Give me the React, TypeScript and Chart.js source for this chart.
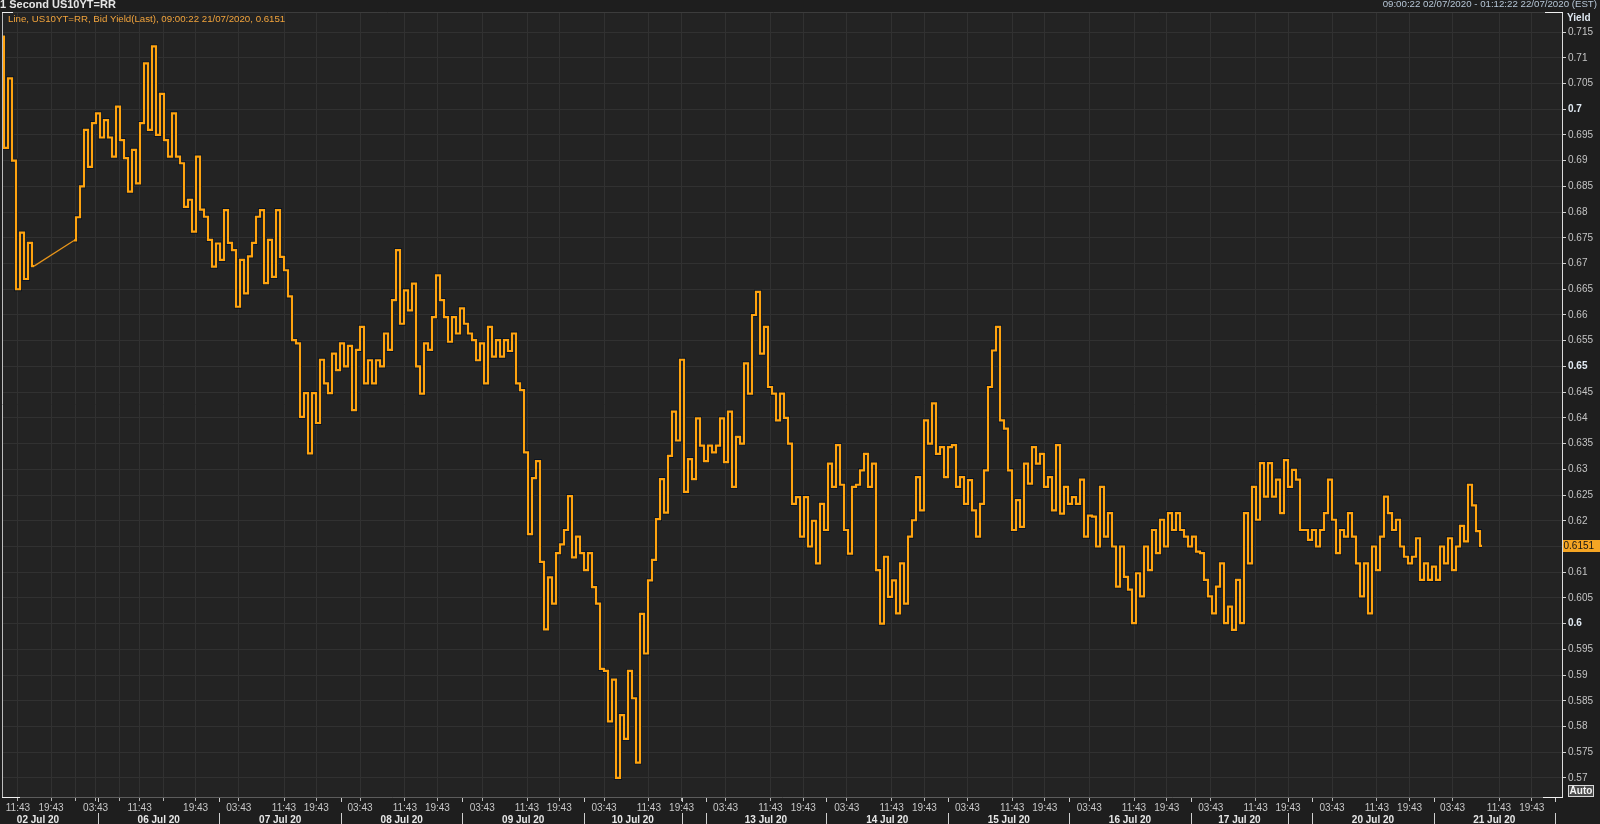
import React, { useEffect, useRef } from "react";
import { Chart, registerables } from "chart.js";

Chart.register(...registerables);

// ---------- texts ----------
const TITLE = "1 Second US10YT=RR";
const RANGE_TEXT = "09:00:22 02/07/2020 - 01:12:22 22/07/2020 (EST)";
const LEGEND_TEXT = "Line, US10YT=RR, Bid Yield(Last), 09:00:22 21/07/2020, 0.6151";
const AXIS_TITLE = "Yield";
const AUTO_TEXT = "Auto";
const LAST_VALUE = 0.6151;

// ---------- data (x = sample/bar index on the compressed session axis) ----------
const START_02JUL = 0;
const START_06JUL = 18;

const yields02Jul = [0.7141, 0.6925, 0.706, 0.69, 0.665, 0.676, 0.667, 0.674, 0.6695];

const yieldsFrom06Jul = [
  // 06 Jul
  0.6745, 0.679, 0.685, 0.696, 0.6888, 0.6973, 0.6992, 0.6945, 0.6979, 0.6945, 0.6908, 0.7005, 0.694, 0.6905, 0.684, 0.6921, 0.6856, 0.6973, 0.7089,
  0.696, 0.7122, 0.695, 0.703, 0.694, 0.6908, 0.6992, 0.6908, 0.6895, 0.681, 0.6824, 0.6762, 0.6908, 0.6805, 0.6791, 0.6746, 0.6694, 0.6739, 0.6707,
  // 07 Jul
  0.6804, 0.674, 0.6726, 0.6616, 0.6707, 0.6642, 0.6714, 0.674, 0.6791, 0.6804, 0.6662, 0.6746, 0.6674, 0.6804, 0.6713, 0.6687, 0.6636, 0.6551, 0.6545,
  0.6402, 0.6448, 0.6331, 0.6448, 0.639, 0.6513, 0.6467, 0.6448, 0.6525, 0.6493, 0.6545, 0.65, 0.654, 0.6415, 0.6532, 0.6577, 0.6467, 0.6512, 0.6467,
  // 08 Jul
  0.6512, 0.65, 0.6564, 0.6532, 0.6629, 0.6726, 0.6583, 0.6648, 0.6609, 0.6661, 0.65, 0.6447, 0.6545, 0.6532, 0.6596, 0.6677, 0.6629, 0.6596, 0.6548,
  0.6596, 0.6564, 0.6613, 0.6583, 0.6564, 0.6551, 0.6512, 0.6545, 0.6467, 0.6577, 0.6519, 0.6551, 0.6519, 0.6551, 0.653, 0.6564, 0.6467, 0.6454, 0.6333, 0.6174,
  // 09 Jul
  0.6283, 0.6316, 0.612, 0.5989, 0.609, 0.6039, 0.6137, 0.6154, 0.6182, 0.6248, 0.6129, 0.6169, 0.6137, 0.6104, 0.6137, 0.6071, 0.6039, 0.5912, 0.5908,
  // 10 Jul
  0.581, 0.5891, 0.57, 0.5822, 0.5776, 0.5908, 0.5855, 0.573, 0.6019, 0.5942, 0.6084, 0.6124, 0.6203, 0.6281, 0.6216, 0.6326, 0.6412, 0.6356, 0.6513,
  0.6256, 0.632, 0.6281, 0.6399, 0.6346, 0.6316, 0.6346, 0.6333, 0.6346, 0.6399, 0.6314, 0.6412, 0.6266, 0.6363, 0.635, 0.6506, 0.6447, 0.66,
  // 13 Jul
  0.6645, 0.6525, 0.6577, 0.646, 0.6447, 0.6395, 0.6447, 0.64, 0.635, 0.6233, 0.6246, 0.6169, 0.6246, 0.615, 0.62, 0.6117, 0.6233, 0.6182, 0.6311,
  // 14 Jul
  0.6266, 0.6347, 0.627, 0.6182, 0.6136, 0.6266, 0.627, 0.6298, 0.633, 0.6266, 0.6311, 0.6104, 0.6, 0.613, 0.6052, 0.6084, 0.602, 0.6117, 0.6039,
  0.6169, 0.6201, 0.6285, 0.622, 0.6395, 0.635, 0.6428, 0.633, 0.6343, 0.6285, 0.6343, 0.6347, 0.6266, 0.6285, 0.6233, 0.6279, 0.622, 0.6169, 0.6233,
  // 15 Jul
  0.6298, 0.646, 0.6531, 0.6577, 0.6395, 0.6379, 0.6298, 0.6182, 0.624, 0.6188, 0.6311, 0.6272, 0.6343, 0.6311, 0.633, 0.6266, 0.6285, 0.622, 0.6347,
  // 16 Jul
  0.6214, 0.6266, 0.6233, 0.6246, 0.6233, 0.628, 0.6169, 0.621, 0.6208, 0.615, 0.6266, 0.6169, 0.6215, 0.615, 0.6072, 0.615, 0.6091, 0.6066, 0.6001,
  0.6098, 0.6053, 0.615, 0.6104, 0.6182, 0.6137, 0.6202, 0.615, 0.6215, 0.6182, 0.6215, 0.6182, 0.6169, 0.615, 0.6169, 0.614, 0.6137, 0.6085, 0.6053,
  // 17 Jul
  0.602, 0.6072, 0.6117, 0.6001, 0.6033, 0.5988, 0.6085, 0.6001, 0.6215, 0.6117, 0.6266, 0.6202, 0.6312, 0.6247, 0.6312, 0.6247, 0.628, 0.6215, 0.6318,
  // 20 Jul
  0.6266, 0.6299, 0.628, 0.6182, 0.6182, 0.6163, 0.6182, 0.615, 0.6182, 0.6215, 0.628, 0.6202, 0.6137, 0.6182, 0.6169, 0.6215, 0.6169, 0.6117, 0.6053,
  0.6117, 0.602, 0.615, 0.6104, 0.6169, 0.6247, 0.6215, 0.6182, 0.6202, 0.615, 0.613, 0.6117, 0.613, 0.6166, 0.6085, 0.6117, 0.6085, 0.6111, 0.6085,
  // 21 Jul
  0.615, 0.6117, 0.6166, 0.6104, 0.615, 0.619, 0.616, 0.627, 0.623, 0.618, 0.6151,
];

// ---------- axis ticks ----------
const X_MIN = 0;
const X_MAX = 390;
const Y_MIN = 0.5663;
const Y_MAX = 0.7189;

const timeTickBars = [
  3.98, 12.25, 18.25, 23.4, 29.45, 34.4, 40.4, 48.4,
  59.2, 70.5, 78.55, 89.5, 100.7, 108.85, 120.05, 131.25, 139.3,
  150.5, 161.7, 169.9, 180.9, 192.1, 200.3, 211.2, 222.4, 230.6,
  241.35, 252.55, 260.7, 271.8, 283, 291.2, 302.2, 313.4, 321.5,
  332.5, 343.7, 351.9, 362.65, 374.25, 382.45,
];
const timeTickLabels = [
  "11:43", "19:43", "", "03:43", "", "11:43", "", "19:43",
  "03:43", "11:43", "19:43", "03:43", "11:43", "19:43", "03:43", "11:43", "19:43",
  "03:43", "11:43", "19:43", "03:43", "11:43", "19:43", "03:43", "11:43", "19:43",
  "03:43", "11:43", "19:43", "03:43", "11:43", "19:43", "03:43", "11:43", "19:43",
  "03:43", "11:43", "19:43", "03:43", "11:43", "19:43",
];

const dayNames = ["02 Jul 20", "06 Jul 20", "07 Jul 20", "08 Jul 20", "09 Jul 20", "10 Jul 20", "13 Jul 20", "14 Jul 20", "15 Jul 20", "16 Jul 20", "17 Jul 20", "20 Jul 20", "21 Jul 20"];
const dayStartBars = [-6, 24, 54.35, 84.75, 115.1, 145.5, 175.9, 206.05, 236.6, 266.8, 297.2, 327.6, 357.9];
const dayEndBars = [24, 54.35, 84.75, 115.1, 145.5, 169.9, 206.05, 236.6, 266.8, 297.2, 321.5, 357.9, 388.25];
const sessionBreakBars = [24, 54.35, 84.75, 115.1, 145.5, 169.9, 175.9, 206.05, 236.6, 266.8, 297.2, 321.5, 327.6, 357.9, 388.25];

const yTickValues = [
  0.57, 0.575, 0.58, 0.585, 0.59, 0.595, 0.6, 0.605, 0.61, 0.615,
  0.62, 0.625, 0.63, 0.635, 0.64, 0.645, 0.65, 0.655, 0.66, 0.665,
  0.67, 0.675, 0.68, 0.685, 0.69, 0.695, 0.7, 0.705, 0.71, 0.715,
];

// ---------- styles ----------
const FONT = "'Liberation Sans', Arial, sans-serif";
const PAGE_BG = "#1e1e1e";
const HEADER_BG = "#1e1e1e";
const PLOT_BG = "#232323";
const GRID = "#313131";
const ORANGE = "#ffa30f";
const OUTLINE = "#0b1422";

const isMajor = (v: any) =>
  typeof v === "number" && Math.abs(v * 20 - Math.round(v * 20)) < 1e-6;
const tickValue = (ctx: any) => (ctx && ctx.tick ? ctx.tick.value : undefined);

export default function App() {
  const ref = useRef<HTMLCanvasElement | null>(null);

  useEffect(() => {
    document.body.style.margin = "0";
    document.body.style.background = PAGE_BG;
    const canvas = ref.current;
    if (!canvas) return;

    const pts02 = yields02Jul.map((y, i) => ({ x: START_02JUL + i, y }));
    const ptsMain = yieldsFrom06Jul.map((y, i) => ({ x: START_06JUL + i, y }));
    const bridge = [pts02[pts02.length - 1], ptsMain[0]];

    const lineStyle = (color: string, width: number, stepped: any) => ({
      borderColor: color,
      borderWidth: width,
      pointRadius: 0,
      fill: false,
      tension: 0,
      stepped,
    });

    const decor = {
      id: "decor",
      beforeDraw(chart: any) {
        const { ctx, chartArea: a, width, height } = chart;
        ctx.save();
        ctx.fillStyle = PAGE_BG;
        ctx.fillRect(0, 0, width, height);
        ctx.fillStyle = HEADER_BG;
        ctx.fillRect(0, 0, width, a.top);
        ctx.fillStyle = PLOT_BG;
        ctx.fillRect(a.left, a.top, a.right - a.left, a.bottom - a.top);
        ctx.restore();
      },
      afterDraw(chart: any) {
        const { ctx, chartArea: a, width, height } = chart;
        const xs = chart.scales.x;
        const ys = chart.scales.y;
        ctx.save();

        // header
        ctx.textBaseline = "alphabetic";
        ctx.font = `bold 11px ${FONT}`;
        ctx.fillStyle = "#e6e6e6";
        ctx.textAlign = "left";
        ctx.fillText(TITLE, 0, 7.5);
        ctx.font = `9.7px ${FONT}`;
        ctx.fillStyle = "#b6c6d6";
        ctx.textAlign = "right";
        ctx.fillText(RANGE_TEXT, 1597, 7);

        // legend text
        ctx.font = `9.7px ${FONT}`;
        ctx.fillStyle = "#f2a43c";
        ctx.textAlign = "left";
        ctx.fillText(LEGEND_TEXT, 8, 22);

        // top border of plot
        ctx.strokeStyle = "#3c3c3c";
        ctx.lineWidth = 1;
        ctx.beginPath();
        ctx.moveTo(a.left, a.top + 0.5);
        ctx.lineTo(a.right - 17, a.top + 0.5);
        ctx.stroke();

        // left border
        ctx.strokeStyle = "#bdbdbd";
        ctx.beginPath();
        ctx.moveTo(a.left + 0.5, a.top);
        ctx.lineTo(a.left + 0.5, a.bottom);
        ctx.stroke();

        // corner brackets
        ctx.strokeStyle = "#f0f0f0";
        ctx.beginPath();
        ctx.moveTo(a.left, a.top + 0.5);
        ctx.lineTo(a.left + 11, a.top + 0.5);
        ctx.moveTo(a.left, a.bottom + 0.5);
        ctx.lineTo(a.left + 18, a.bottom + 0.5);
        ctx.moveTo(a.right - 17, a.top + 0.5);
        ctx.lineTo(a.right + 1, a.top + 0.5);
        ctx.moveTo(a.right - 19, a.bottom + 0.5);
        ctx.lineTo(a.right + 1, a.bottom + 0.5);
        ctx.stroke();

        // axis title
        ctx.font = `bold 10px ${FONT}`;
        ctx.fillStyle = "#dde6ef";
        ctx.textAlign = "left";
        ctx.fillText(AXIS_TITLE, a.right + 5, 20.5);

        // last value tag
        const ly = ys.getPixelForValue(LAST_VALUE);
        ctx.fillStyle = "#f5a524";
        ctx.fillRect(a.right + 1, Math.round(ly) - 6, width - a.right - 1, 12);
        ctx.fillStyle = "#151515";
        ctx.font = `10px ${FONT}`;
        ctx.textBaseline = "middle";
        ctx.fillText(LAST_VALUE.toFixed(4), a.right + 1.5, Math.round(ly) + 0.5);

        // Auto box
        ctx.fillStyle = "#4a4a4a";
        ctx.fillRect(1568, 785, 26, 12);
        ctx.strokeStyle = "#d8d8d8";
        ctx.strokeRect(1568.5, 785.5, 25, 11);
        ctx.fillStyle = "#f4f4f4";
        ctx.font = `bold 10px ${FONT}`;
        ctx.textAlign = "center";
        ctx.fillText(AUTO_TEXT, 1581, 791.5);

        // date row
        ctx.textBaseline = "alphabetic";
        ctx.font = `bold 10px ${FONT}`;
        ctx.fillStyle = "#e8e8e8";
        ctx.textAlign = "center";
        dayNames.forEach((name, i) => {
          const cx = xs.getPixelForValue((dayStartBars[i] + dayEndBars[i]) / 2);
          ctx.fillText(name, cx, 823);
        });

        // session separators
        ctx.strokeStyle = "#cfcfcf";
        ctx.beginPath();
        sessionBreakBars.forEach((b) => {
          const x = Math.round(xs.getPixelForValue(b)) + 0.5;
          ctx.moveTo(x, a.bottom + 1);
          ctx.lineTo(x, a.bottom + 5);
          ctx.moveTo(x, 813);
          ctx.lineTo(x, height);
        });
        ctx.stroke();

        ctx.restore();
      },
    };

    const chart = new Chart(canvas, {
      type: "line",
      data: {
        datasets: [
          { data: pts02, ...lineStyle(ORANGE, 2.2, "middle") },
          { data: ptsMain, ...lineStyle(ORANGE, 2.2, "middle") },
          { data: bridge, ...lineStyle("#e8951a", 1.2, false) },
          { data: pts02, ...lineStyle(OUTLINE, 4, "middle") },
          { data: ptsMain, ...lineStyle(OUTLINE, 4, "middle") },
        ] as any,
      },
      options: {
        responsive: false,
        animation: false,
        devicePixelRatio: 1,
        events: [],
        layout: { padding: { left: 2, top: 12, right: 0, bottom: 0 } },
        plugins: {
          legend: { display: false },
          tooltip: { enabled: false },
          title: { display: false },
        },
        scales: {
          x: {
            type: "linear",
            position: "bottom",
            min: X_MIN,
            max: X_MAX,
            afterBuildTicks: (s: any) => {
              s.ticks = timeTickBars.map((v) => ({ value: v }));
            },
            afterFit: (s: any) => {
              s.height = 27;
            },
            ticks: {
              autoSkip: false,
              maxRotation: 0,
              minRotation: 0,
              padding: 1,
              color: "#c8c8c8",
              font: { family: FONT, size: 10 },
              callback: (_v: any, i: number) => timeTickLabels[i] ?? "",
            },
            grid: {
              color: GRID,
              lineWidth: 1,
              drawTicks: true,
              tickLength: 4,
              tickColor: "#b8b8b8",
            },
            border: { display: true, color: "#5c5c5c" },
          },
          y: {
            type: "linear",
            position: "right",
            min: Y_MIN,
            max: Y_MAX,
            afterBuildTicks: (s: any) => {
              s.ticks = yTickValues.map((v) => ({ value: v }));
            },
            afterFit: (s: any) => {
              s.width = 38;
            },
            ticks: {
              padding: 2,
              color: (ctx: any) => (isMajor(tickValue(ctx)) ? "#e2ebf4" : "#c4c4c4"),
              font: (ctx: any) => ({
                family: FONT,
                size: 10,
                weight: isMajor(tickValue(ctx)) ? "bold" : "normal",
              }),
              callback: (v: any) => String(parseFloat(Number(v).toFixed(3))),
            },
            grid: {
              color: GRID,
              lineWidth: 1,
              drawTicks: true,
              tickLength: 4,
              tickColor: "#d0d0d0",
            },
            border: { display: true, color: "#dcdcdc" },
          },
        },
      } as any,
      plugins: [decor],
    });

    return () => chart.destroy();
  }, []);

  return (
    <div style={{ position: "fixed", left: 0, top: 0, width: 1600, height: 824, overflow: "hidden", background: PAGE_BG }}>
      <canvas ref={ref} width={1600} height={824} style={{ display: "block", width: 1600, height: 824 }} />
    </div>
  );
}
